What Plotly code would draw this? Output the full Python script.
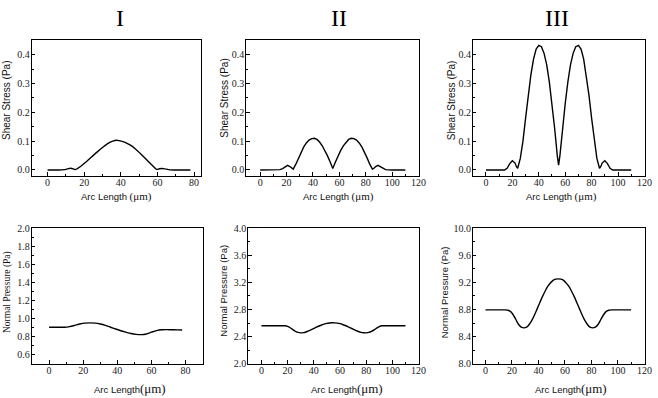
import plotly.graph_objects as go

W, H = 658, 398

# ---------------- data ----------------
panel_titles = ["I", "II", "III"]

shear1_x = [0, 3, 6, 9, 11, 12.5, 14, 15, 18, 21, 24, 27, 30, 33, 36, 37.5, 39,
            42, 45, 48, 51, 54, 57, 59.5, 61, 62.5, 64, 66, 69, 72, 75, 78]
shear1_y = [0, 0, 0, 0.001, 0.004, 0.006, 0.004, 0.001, 0.012, 0.028, 0.045, 0.062,
            0.078, 0.092, 0.101, 0.103, 0.102, 0.097, 0.087, 0.073, 0.055, 0.036,
            0.017, 0.002, 0.004, 0.005, 0.004, 0.001, 0, 0, 0, 0]

shear2_x = [0, 5, 10, 15, 17, 19, 20.75, 22.5, 24, 25, 27, 29, 31, 33, 35, 37, 39, 40, 41,
            43, 45, 47, 49, 51, 53, 55, 57, 59, 61, 63, 65, 67, 69, 70, 71,
            73, 75, 77, 79, 81, 83, 85, 86, 87.5, 89.25, 91, 93, 95, 100, 105, 110]
shear2_y = [0, 0, 0, 0.001, 0.005, 0.012, 0.016, 0.012, 0.005, 0.003, 0.020, 0.042,
            0.062, 0.080, 0.094, 0.104, 0.109, 0.110, 0.110, 0.106, 0.097, 0.084,
            0.068, 0.049, 0.028, 0.005, 0.028, 0.049, 0.068, 0.084, 0.097, 0.106,
            0.110, 0.110, 0.109, 0.104, 0.094, 0.080, 0.062, 0.042, 0.020, 0.003,
            0.005, 0.012, 0.016, 0.012, 0.005, 0.001, 0, 0, 0]

shear3_x = [0, 5, 10, 14, 16, 18, 20, 22, 23, 24, 26, 28, 30, 32, 34, 36, 38, 40,
            42, 44, 46, 48, 50, 52, 54, 55, 56, 58, 60, 62, 64, 66, 68, 70,
            72, 74, 76, 78, 80, 82, 84, 86, 87, 88, 90, 92, 94, 96, 100, 105, 110]
shear3_y = [0, 0, 0, 0, 0.006, 0.022, 0.032, 0.024, 0.012, 0.006, 0.04, 0.10, 0.18,
            0.26, 0.33, 0.385, 0.42, 0.433, 0.428, 0.405, 0.365, 0.305, 0.23, 0.145,
            0.05, 0.017, 0.05, 0.145, 0.23, 0.305, 0.365, 0.405, 0.428, 0.433, 0.42,
            0.385, 0.33, 0.26, 0.18, 0.10, 0.04, 0.006, 0.012, 0.024, 0.032, 0.022,
            0.006, 0, 0, 0, 0]

press1_x = [0, 3, 6, 9, 12, 15, 18, 21, 24, 27, 30, 33, 36, 39, 42, 45, 48, 51, 54,
            57, 60, 63, 66, 69, 72, 75, 78]
press1_y = [0.905, 0.905, 0.904, 0.905, 0.912, 0.925, 0.940, 0.950, 0.953, 0.950,
            0.940, 0.925, 0.905, 0.885, 0.866, 0.850, 0.835, 0.826, 0.823, 0.830,
            0.850, 0.868, 0.877, 0.878, 0.877, 0.876, 0.875]

press2_x = [0, 5, 10, 15, 18, 20, 22, 24, 26, 28, 30, 32, 34, 36, 38, 40, 42, 44, 46,
            48, 50, 52, 54, 56, 58, 60, 62, 64, 66, 68, 70, 72, 74, 76, 78, 80,
            82, 84, 86, 88, 90, 92, 95, 100, 105, 110]
press2_y = [2.562, 2.562, 2.562, 2.562, 2.561, 2.552, 2.532, 2.505, 2.480, 2.463,
            2.457, 2.460, 2.470, 2.485, 2.503, 2.522, 2.541, 2.558, 2.573, 2.586,
            2.596, 2.602, 2.605, 2.604, 2.600, 2.592, 2.580, 2.565, 2.548, 2.530,
            2.512, 2.493, 2.477, 2.465, 2.458, 2.457, 2.463, 2.478, 2.500, 2.527,
            2.550, 2.561, 2.562, 2.562, 2.562, 2.562]

press3_x = [0, 5, 10, 15, 17, 19, 21, 23, 25, 27, 29, 31, 33, 35, 37, 39, 41, 43, 45,
            47, 49, 51, 53, 55, 57, 59, 61, 63, 65, 67, 69, 71, 73, 75, 77, 79, 81,
            83, 85, 87, 89, 91, 93, 95, 100, 105, 110]
press3_y = [8.795, 8.795, 8.795, 8.795, 8.79, 8.77, 8.72, 8.65, 8.58, 8.54, 8.53,
            8.54, 8.58, 8.64, 8.72, 8.81, 8.90, 8.99, 9.07, 9.14, 9.19, 9.23, 9.248,
            9.252, 9.248, 9.23, 9.19, 9.14, 9.07, 8.99, 8.90, 8.81, 8.72, 8.64, 8.58,
            8.54, 8.53, 8.54, 8.58, 8.65, 8.72, 8.77, 8.79, 8.795, 8.795, 8.795, 8.795]

for a, b in [(shear1_x, shear1_y), (shear2_x, shear2_y), (shear3_x, shear3_y),
             (press1_x, press1_y), (press2_x, press2_y), (press3_x, press3_y)]:
    assert len(a) == len(b), (len(a), len(b))

shear_title = "Shear Stress (Pa)"
press_title = "Normal Pressure (Pa)"
x_title = "Arc Length"
unit = "(μm)"

# ---------------- layout helpers ----------------
def fx(p):
    return p / W

def fy(p):
    return 1 - p / H

# frames in pixels: (left, right, top, bottom)
frames = [
    (32, 203, 35, 175), (249, 424, 35, 175), (478, 652, 35, 175),
    (32, 205, 229, 369), (251, 424, 229, 369), (478, 652, 229, 369),
]
xranges = [[-8.7, 83.7], [-10.5, 120.7], [-9.9, 120.5],
           [-10.2, 90.1], [-10, 120.7], [-9.5, 120.5]]
yranges = [[-0.02, 0.4516], [-0.02, 0.4516], [-0.02, 0.4516],
           [0.5, 2.0], [2.0, 4.0], [8.0, 10.0]]
ydticks = [0.1, 0.1, 0.1, 0.2, 0.4, 0.4]
xdata = [shear1_x, shear2_x, shear3_x, press1_x, press2_x, press3_x]
ydata = [shear1_y, shear2_y, shear3_y, press1_y, press2_y, press3_y]
shapes_line = ["spline", "linear", "linear", "spline", "spline", "spline"]

SERIF = "Liberation Serif"
SANS = "Liberation Sans"

fig = go.Figure()
layout = dict(width=W, height=H, autosize=False,
              margin=dict(l=0, r=0, t=0, b=0),
              paper_bgcolor="white", plot_bgcolor="white",
              showlegend=False, annotations=[])

for i in range(6):
    n = "" if i == 0 else str(i + 1)
    l, r, t, b = frames[i]
    fig.add_trace(go.Scatter(
        x=xdata[i], y=ydata[i], mode="lines",
        line=dict(color="black", width=1.4, shape=shapes_line[i], smoothing=0.7),
        xaxis="x" + n, yaxis="y" + n, hoverinfo="skip"))
    axcommon = dict(showline=True, mirror=True, linecolor="black", linewidth=1,
                    showgrid=False, zeroline=False, ticks="inside", ticklen=3.5,
                    tickcolor="black", tickwidth=1,
                    tickfont=dict(family=SERIF, size=10, color="#222"))
    layout["xaxis" + n] = dict(axcommon, domain=[fx(l), fx(r)], range=xranges[i],
                               anchor="y" + n, tick0=0, dtick=20,
                               ticklabelstandoff=-3,
                               minor=dict(ticks="inside", ticklen=2, dtick=10,
                                          tick0=0, tickcolor="black"))
    layout["yaxis" + n] = dict(axcommon, domain=[fy(b), fy(t)], range=yranges[i],
                               anchor="x" + n, tick0=0, dtick=ydticks[i],
                               tickformat=".1f", ticklabelstandoff=-1,
                               minor=dict(ticks="inside", ticklen=2,
                                          dtick=ydticks[i] / 2, tick0=0,
                                          tickcolor="black"))

ann = layout["annotations"]
# panel titles
for xp, txt in zip([121, 343, 563], panel_titles):
    ann.append(dict(x=fx(xp), y=fy(12), xref="paper", yref="paper", text=txt,
                    showarrow=False, xanchor="center", yanchor="middle",
                    font=dict(family=SERIF, size=24, color="black")))

# y-axis titles
ytitle_specs = [
    (6, 97, shear_title, SANS, 10),
    (227, 95, shear_title, SANS, 10),
    (456, 98, shear_title, SANS, 10),
    (7, 295, press_title, SERIF, 9.5),
    (226, 294, press_title, SANS, 9.5),
    (449, 295, press_title, SANS, 9.5),
]
for xp, yp, txt, fam, sz in ytitle_specs:
    ann.append(dict(x=fx(xp), y=fy(yp), xref="paper", yref="paper", text=txt,
                    showarrow=False, textangle=-90, xanchor="center",
                    yanchor="middle", font=dict(family=fam, size=sz, color="#111")))

# x-axis titles
xtitle_specs = [(118, 196, 11, " "), (342, 196, 11, " "), (568, 196, 11, " "),
                (131, 394.5, 13, ""), (351, 394.5, 13, ""), (577, 394.5, 13, "")]
for xp, yp, usz, sep in xtitle_specs:
    txt = (x_title + sep + "<span style='font-family:Liberation Serif;font-size:%dpx'>%s</span>"
           % (usz, unit))
    ann.append(dict(x=fx(xp), y=fy(yp), xref="paper", yref="paper", text=txt,
                    showarrow=False, xanchor="center", yanchor="middle",
                    font=dict(family=SANS, size=9.5, color="#111")))

fig.update_layout(**layout)
fig.write_html(
    "out.html",
    config={"displayModeBar": False},
    post_script="document.body.style.margin='0';document.body.style.padding='0';"
                "document.body.style.overflow='hidden';")
